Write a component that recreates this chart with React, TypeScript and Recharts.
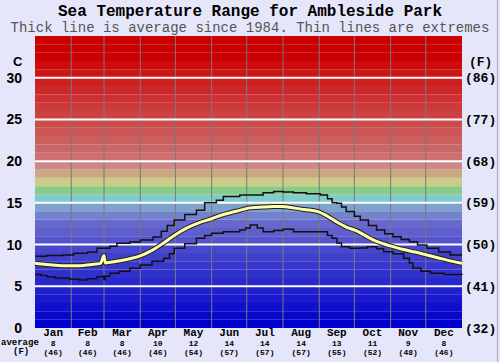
import React from 'react';
import {
  LineChart, Line, XAxis, YAxis, ReferenceArea, ReferenceLine,
} from 'recharts';

// month labels with the long-term monthly average (C and F)
const MONTHS = ['Jan', 'Feb', 'Mar', 'Apr', 'May', 'Jun', 'Jul', 'Aug', 'Sep', 'Oct', 'Nov', 'Dec'];
const AVG_C = [8, 8, 8, 10, 12, 14, 14, 14, 13, 11, 9, 8];
const AVG_F = [46, 46, 46, 46, 54, 57, 57, 57, 55, 52, 48, 46];
const MONTH_START = [0, 31, 59, 90, 120, 151, 181, 212, 243, 273, 304, 334, 365];

// y ticks (C) and matching F labels
const TICKS_C = [0, 5, 10, 15, 20, 25, 30];
const TICKS_F = [32, 41, 50, 59, 68, 77, 86];

// daily sea temperature [day of year, C]
const AVERAGE = [
  [0, 7.75], [10, 7.6], [20, 7.5], [30, 7.45], [38, 7.47], [48, 7.6], [56, 7.75], [59, 8.7], [60, 7.8],
  [70, 8.0], [81, 8.3], [90, 8.65], [100, 9.3], [110, 10.2], [119, 11.1], [130, 12.0], [140, 12.6],
  [151, 13.1], [161, 13.6], [172, 14.0], [184, 14.4], [195, 14.5], [204, 14.55], [211, 14.55],
  [221, 14.4], [230, 14.2], [242, 13.95], [250, 13.4], [258, 12.7], [266, 12.1], [274, 11.7],
  [282, 11.1], [290, 10.5], [298, 10.1], [306, 9.75], [315, 9.4], [325, 9.1], [335, 8.75],
  [345, 8.4], [355, 8.05], [365, 7.75],
];
const MAXIMUM = [
  [0, 8.6], [10, 8.7], [24, 8.75], [33, 8.95], [45, 9.1], [53, 9.55], [64, 9.8], [70, 10.15],
  [81, 10.3], [90, 10.55], [101, 10.9], [108, 11.6], [113, 12.3], [119, 12.95], [128, 13.6],
  [138, 14.1], [145, 15.0], [155, 15.3], [161, 15.75], [175, 15.95], [184, 15.95], [195, 16.2],
  [204, 16.35], [212, 16.3], [221, 16.2], [232, 16.1], [244, 15.95], [250, 15.5], [254, 15.0],
  [258, 14.95], [262, 14.5], [266, 13.95], [273, 13.4], [278, 12.95], [285, 12.3], [292, 11.75],
  [299, 11.3], [306, 10.95], [313, 10.6], [320, 10.35], [327, 9.95], [335, 9.55], [345, 9.1],
  [355, 8.75], [365, 8.75],
];
const MINIMUM = [
  [0, 6.4], [5, 6.3], [10, 6.15], [17, 6.0], [24, 5.95], [30, 5.85], [38, 5.75], [45, 5.9],
  [53, 6.15], [58, 6.2], [59, 5.8], [60, 6.2], [64, 6.55], [72, 6.8], [81, 7.15], [90, 7.55],
  [100, 8.0], [110, 8.35], [115, 8.9], [119, 9.55], [128, 10.1], [138, 10.75], [145, 11.1],
  [151, 11.35], [161, 11.55], [175, 11.75], [180, 12.0], [184, 12.35], [190, 12.0], [195, 11.55],
  [204, 11.7], [212, 11.83], [221, 11.55], [244, 11.55], [250, 11.1], [254, 10.75], [258, 10.2],
  [262, 9.75], [269, 9.55], [278, 9.6], [284, 9.75], [292, 9.5], [298, 9.15], [306, 8.9],
  [315, 8.35], [320, 7.8], [323, 7.15], [330, 6.8], [338, 6.55], [350, 6.4], [365, 6.35],
];

// one colour per 1 degree band, from 0 C upwards
const BAND_COLORS = [
  '#0000cc', '#0808cc', '#1010cc', '#1818cc', '#2020cc', '#2828cc', '#3030cc', '#3838cc', '#4040cc', '#4848cc',
  '#5454cc', '#5e5ecc', '#6868cc', '#7282cc', '#7ea2cc', '#80cccc', '#88cc88', '#cccc88', '#cca880', '#cc8888',
  '#cc7070', '#cc6767', '#cc5e5e', '#cc5555', '#cc4c4c', '#cc4343', '#cc3a3a', '#cc3131', '#cc2828', '#cc1f1f',
  '#cc1616', '#cc0d0d', '#cc0000', '#cc0000', '#cc0000',
];

const toRows = (pts: number[][]) => pts.map(([day, t]) => ({ day, t }));
const MID = MONTHS.map((_, i) => (MONTH_START[i] + MONTH_START[i + 1]) / 2);

const MONO = '"Liberation Mono", "DejaVu Sans Mono", monospace';

const MonthTick = (props: any) => {
  const { x, y, payload } = props;
  const i = MID.indexOf(payload.value);
  if (i < 0) return null;
  return (
    <g>
      <text x={x} y={y + 5} textAnchor="middle" dominantBaseline="central"
        style={{ fontFamily: MONO, fontSize: 11, fontWeight: 'bold', fill: '#000' }}>{MONTHS[i]}</text>
      <text x={x} y={y + 15} textAnchor="middle" dominantBaseline="central"
        style={{ fontFamily: MONO, fontSize: 8, fontWeight: 'bold', fill: '#000' }}>{AVG_C[i]}</text>
      <text x={x} y={y + 24} textAnchor="middle" dominantBaseline="central"
        style={{ fontFamily: MONO, fontSize: 8, fontWeight: 'bold', fill: '#000' }}>({AVG_F[i]})</text>
    </g>
  );
};

const label = (extra: React.CSSProperties): React.CSSProperties => ({
  position: 'absolute', fontFamily: MONO, color: '#000', lineHeight: 1, whiteSpace: 'nowrap', ...extra,
});

export default function App() {
  return (
    <div style={{ position: 'absolute', left: 0, top: 0, width: 500, height: 362, background: '#e6e6fa', overflow: 'hidden' }}>
      <LineChart width={500} height={362} margin={{ top: 36, right: 0, bottom: 0, left: 0 }}>
        <XAxis dataKey="day" type="number" domain={[0, 365]} ticks={MID} interval={0}
          axisLine={false} tickLine={false} tickSize={0} tickMargin={0} height={34} tick={<MonthTick />} />
        <YAxis yAxisId="c" type="number" domain={[0, 35]} ticks={TICKS_C} allowDataOverflow width={35}
          axisLine={false} tickLine={false} tickSize={0} tickMargin={13} interval={0}
          tick={{ fill: '#000', fontSize: 14, fontWeight: 'bold', fontFamily: '"Liberation Sans", Arial, sans-serif' }} />
        <YAxis yAxisId="f" orientation="right" type="number" domain={[0, 35]} ticks={TICKS_C} allowDataOverflow width={38}
          axisLine={false} tickLine={false} tickSize={0} tickMargin={3} interval={0}
          tickFormatter={(v: number) => `(${TICKS_F[TICKS_C.indexOf(v)]})`}
          tick={{ fill: '#000', fontSize: 13, fontWeight: 'bold', fontFamily: MONO }} />

        {BAND_COLORS.map((c, i) => (
          <ReferenceArea key={i} yAxisId="c" y1={i} y2={i + 1} fill={c} fillOpacity={1} stroke="none" />
        ))}
        {MONTH_START.slice(1, 12).map((d) => (
          <ReferenceLine key={'m' + d} yAxisId="c" x={d} stroke="#7a7a7a" strokeWidth={1} />
        ))}
        {TICKS_C.slice(1).map((v) => (
          <ReferenceLine key={'h' + v} yAxisId="c" y={v} stroke="#ffffff" strokeWidth={2} />
        ))}

        <Line yAxisId="c" data={toRows(MAXIMUM)} dataKey="t" type="stepAfter" stroke="#111" strokeWidth={1.5}
          dot={false} isAnimationActive={false} />
        <Line yAxisId="c" data={toRows(MINIMUM)} dataKey="t" type="stepAfter" stroke="#111" strokeWidth={1.5}
          dot={false} isAnimationActive={false} />
        <Line yAxisId="c" data={toRows(AVERAGE)} dataKey="t" type="monotone" stroke="#222" strokeWidth={5}
          dot={false} isAnimationActive={false} />
        <Line yAxisId="c" data={toRows(AVERAGE)} dataKey="t" type="monotone" stroke="#ffffa8" strokeWidth={3}
          dot={false} isAnimationActive={false} />
      </LineChart>

      <div style={label({ left: 0, width: 500, top: 4, textAlign: 'center', fontSize: 16, fontWeight: 'bold' })}>
        Sea Temperature Range for Ambleside Park
      </div>
      <div style={label({ left: 0, width: 500, top: 21, textAlign: 'center', fontSize: 14, color: '#555' })}>
        Thick line is average since 1984. Thin lines are extremes
      </div>
      <div style={label({ left: 13, top: 55, fontSize: 13, fontWeight: 'bold', fontFamily: '"Liberation Sans", Arial, sans-serif' })}>C</div>
      <div style={label({ left: 469, top: 56, fontSize: 13, fontWeight: 'bold' })}>(F)</div>
      <div style={label({ left: 1, top: 339, fontSize: 9, fontWeight: 'bold' })}>average</div>
      <div style={label({ left: 13, top: 348, fontSize: 9, fontWeight: 'bold' })}>(F)</div>
      <div style={{ position: 'absolute', left: 497, top: 0, width: 1, height: 362, background: '#a8a8b8' }} />
    </div>
  );
}
